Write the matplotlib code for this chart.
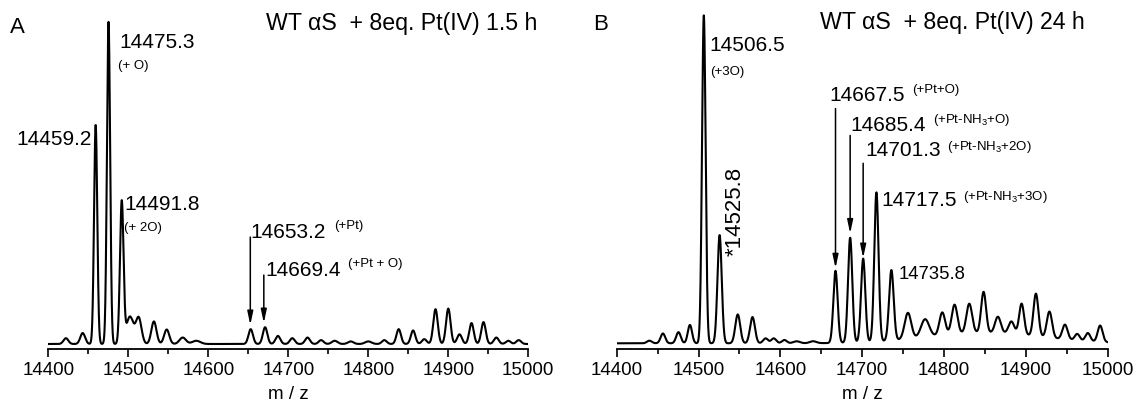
#!/usr/bin/env python3
"""ESI-MS deconvoluted spectra: WT aS + 8 eq. Pt(IV), 1.5 h vs 24 h."""
import matplotlib
matplotlib.use("Agg")
import matplotlib.pyplot as plt
import numpy as np
from matplotlib.ticker import MultipleLocator

plt.rcParams["font.family"] = ["Liberation Sans", "DejaVu Sans"]
plt.rcParams["mathtext.fontset"] = "custom"
plt.rcParams["mathtext.rm"] = "Liberation Sans"
plt.rcParams["mathtext.it"] = "Liberation Sans"

W, H = 1145, 408

# ---- data: peak list (m/z, relative intensity %, width sigma)
A_MZ = [14422, 14443, 14459.2, 14475.3, 14491.8, 14502, 14513, 14532, 14548,
        14568, 14585, 14653, 14671, 14687, 14705, 14724, 14741, 14758, 14778,
        14800, 14820, 14838, 14856, 14870, 14884, 14900, 14914, 14929, 14944,
        14960, 14975, 14988]
A_INT = [1.8, 3.4, 68, 100, 44, 8.5, 8, 7, 4.5,
         2.0, 1.0, 4.6, 5.2, 2.5, 1.8, 2.0, 1.2, 1.0, 0.8,
         0.8, 1.2, 4.6, 4.2, 1.5, 10.8, 11, 3, 6.5, 6.8,
         2.0, 1.0, 1.2]
A_SIG = [3, 3, 2.0, 2.0, 2.2, 4.5, 3.5, 3.2, 3.2,
         4, 5, 2.8, 2.8, 3, 3, 3, 3, 3.5, 3.5,
         4, 3, 2.8, 2.8, 3, 2.8, 2.8, 3, 2.8, 2.8,
         3, 3, 3]

B_MZ = [14440, 14456.5, 14475.5, 14489.5, 14506.5, 14525.8, 14548, 14566,
        14582, 14592, 14605, 14620, 14640, 14667.5, 14685.4, 14701.3, 14717.5,
        14735.8, 14756, 14777, 14798, 14813, 14831, 14848.5, 14866, 14882.5,
        14895, 14912.5, 14929, 14948, 14963, 14976, 14991, 14850]
B_INT = [0.8, 3.0, 3.4, 5.6, 100, 33, 8.8, 8,
         1.5, 1.5, 1.0, 0.6, 0.6, 22, 32, 25.5, 45.5,
         21.5, 8, 5.5, 7, 9, 9, 12.5, 5, 3.8,
         9.5, 13, 8, 4.5, 2, 2.5, 5, 3.2]
B_SIG = [3, 2.8, 2.8, 2.6, 2.2, 2.6, 3, 3,
         3, 3, 3, 4, 4, 2.6, 2.6, 2.6, 2.6,
         2.8, 4, 5, 3.5, 3.5, 3.5, 3, 3.5, 3.5,
         3, 3, 3.2, 3.2, 3, 3, 3, 70]

A_TITLE = "WT αS  + 8eq. Pt(IV) 1.5 h"
B_TITLE = "WT αS  + 8eq. Pt(IV) 24 h"

NUM = 15     # peak labels
SUP = 9.5    # assignment labels
TITLE = 16.7


def spectrum(mz, centers, heights, sigmas):
    y = np.zeros_like(mz)
    for c, h, s in zip(centers, heights, sigmas):
        y += h * np.exp(-0.5 * ((mz - c) / s) ** 2)
    return y


def fpx(x, y):
    return x / W, 1 - y / H


def setup(ax, ylim):
    ax.set_xlim(14400, 15000)
    ax.set_ylim(*ylim)
    for s in ("left", "top", "right"):
        ax.spines[s].set_visible(False)
    ax.spines["bottom"].set_linewidth(1.3)
    ax.set_yticks([])
    ax.xaxis.set_major_locator(MultipleLocator(100))
    ax.xaxis.set_minor_locator(MultipleLocator(50))
    ax.tick_params(axis="x", which="major", length=6, width=1.2, labelsize=13.5, pad=3)
    ax.tick_params(axis="x", which="minor", length=3.5, width=1.2)
    ax.set_xlabel("m / z", fontsize=13.5, labelpad=5)
    ax.patch.set_alpha(0)


def arrow(ax, x, y0, y1):
    ax.annotate("", xy=(x, y1), xytext=(x, y0),
                arrowprops=dict(arrowstyle="-|>,head_width=0.17,head_length=0.8",
                                lw=1.1, color="black", shrinkA=0, shrinkB=0))


mz = np.linspace(14400, 15000, 4001)

fig = plt.figure(figsize=(W / 100, H / 100), dpi=100)
axA = fig.add_axes([48.3 / W, 1 - 349.3 / H, 480 / W, 349.3 / H])
axB = fig.add_axes([616.7 / W, 1 - 349.3 / H, 490.8 / W, 349.3 / H])

# ---- panel A
setup(axA, (-1.65, 106.8))
axA.plot(mz, spectrum(mz, A_MZ, A_INT, A_SIG), color="black", lw=1.5)
axA.text(14488.4, 93.6, "14475.3", fontsize=NUM, va="center")
axA.text(14487.1, 86.3, "(+ O)", fontsize=SUP, va="center")
axA.text(14454.6, 63.4, "14459.2", fontsize=NUM, va="center", ha="right")
axA.text(14494.6, 43.2, "14491.8", fontsize=NUM, va="center")
axA.text(14494.6, 36.0, "(+ 2O)", fontsize=SUP, va="center")
axA.text(14653, 34.6, "14653.2", fontsize=NUM, va="center")
axA.text(14757, 36.6, "(+Pt)", fontsize=SUP, va="center")
arrow(axA, 14652.5, 33.2, 5.9)
axA.text(14670.9, 22.8, "14669.4", fontsize=NUM, va="center")
axA.text(14774.6, 24.8, "(+Pt + O)", fontsize=SUP, va="center")
arrow(axA, 14669.4, 21.4, 6.5)
fig.text(*fpx(17.5, 27.5), "A", fontsize=16, ha="center", va="center")
fig.text(*fpx(266, 23.3), A_TITLE, fontsize=TITLE, va="center")

# ---- panel B
setup(axB, (-1.83, 104.7))
axB.plot(mz, spectrum(mz, B_MZ, B_INT, B_SIG), color="black", lw=1.5)
axB.text(14513.4, 90.7, "14506.5", fontsize=NUM, va="center")
axB.text(14514.1, 82.6, "(+3O)", fontsize=SUP, va="center")
axB.text(14545, 40.2, "*14525.8", fontsize=16, va="center", ha="center", rotation=90)
axB.text(14659.5, 75.5, "14667.5", fontsize=NUM, va="center")
axB.text(14761, 77.4, "(+Pt+O)", fontsize=SUP, va="center")
arrow(axB, 14667.5, 71.6, 22.9)
axB.text(14685.2, 66.5, "14685.4", fontsize=NUM, va="center")
axB.text(14786.7, 68.0, "(+Pt-NH$_3$+O)", fontsize=SUP, va="center")
arrow(axB, 14685.4, 63.4, 33.5)
axB.text(14703.5, 58.7, "14701.3", fontsize=NUM, va="center")
axB.text(14803.8, 60.0, "(+Pt-NH$_3$+2O)", fontsize=SUP, va="center")
arrow(axB, 14701.3, 54.9, 26.0)
axB.text(14724, 43.6, "14717.5", fontsize=NUM, va="center")
axB.text(14823.3, 44.5, "(+Pt-NH$_3$+3O)", fontsize=SUP, va="center")
axB.text(14745.1, 21.0, "14735.8", fontsize=13.3, va="center")
fig.text(*fpx(600.5, 25), "B", fontsize=16, ha="center", va="center")
fig.text(*fpx(820, 22.5), B_TITLE, fontsize=TITLE, va="center")

fig.savefig("out.png", dpi=100)
